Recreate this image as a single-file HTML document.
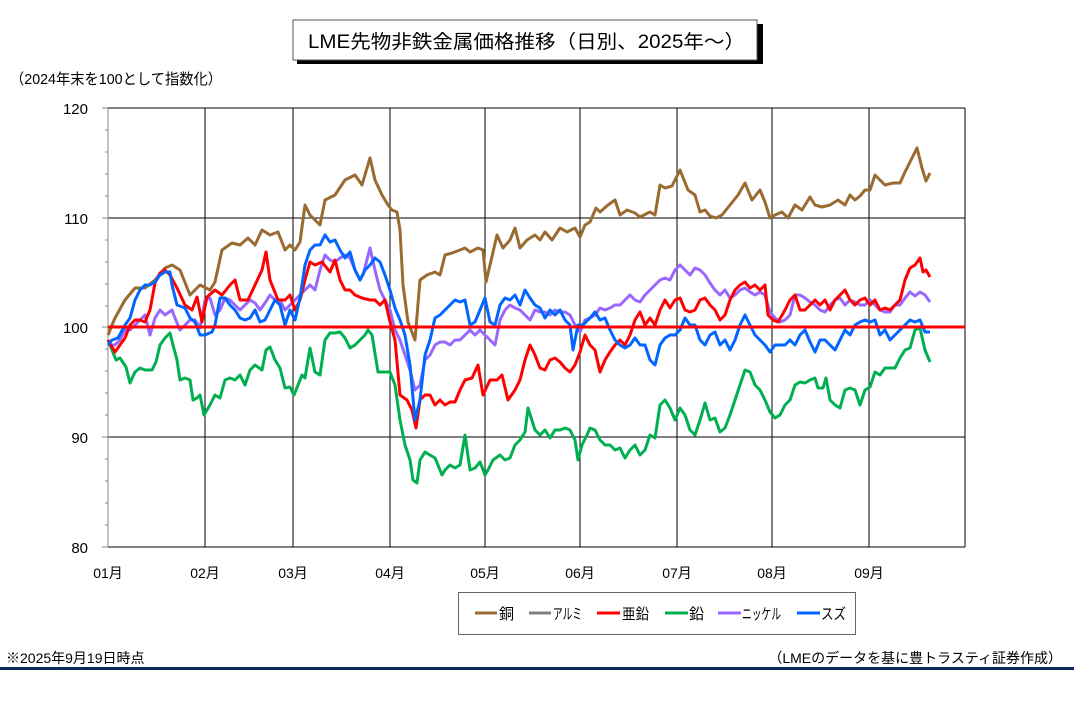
<!DOCTYPE html><html><head><meta charset="utf-8"><style>
body{margin:0;width:1074px;height:707px;background:#fff;overflow:hidden;font-family:"Liberation Sans","Noto Sans CJK JP",sans-serif}
</style></head><body>
<svg width="1074" height="707" xmlns="http://www.w3.org/2000/svg" font-family="Liberation Sans, Noto Sans CJK JP, sans-serif">
<rect x="297" y="24" width="466" height="40" fill="#000"/>
<rect x="293" y="20" width="464" height="40" fill="#fff" stroke="#555" stroke-width="1"/>
<text x="308" y="48" font-size="19" textLength="437" lengthAdjust="spacingAndGlyphs">LME先物非鉄金属価格推移（日別、2025年～）</text>
<text x="10" y="84" font-size="15" textLength="212" lengthAdjust="spacingAndGlyphs">（2024年末を100として指数化）</text>
<g stroke="#000" stroke-width="1">
<line x1="108" y1="108" x2="965" y2="108"/><line x1="108" y1="218" x2="965" y2="218"/><line x1="108" y1="437" x2="965" y2="437"/><line x1="108" y1="547" x2="965" y2="547"/>
<line x1="965" y1="108" x2="965" y2="547"/>
<line x1="205" y1="108" x2="205" y2="547"/><line x1="293" y1="108" x2="293" y2="547"/><line x1="390" y1="108" x2="390" y2="547"/><line x1="485" y1="108" x2="485" y2="547"/><line x1="580" y1="108" x2="580" y2="547"/><line x1="677" y1="108" x2="677" y2="547"/><line x1="772" y1="108" x2="772" y2="547"/><line x1="869" y1="108" x2="869" y2="547"/>
<line x1="108" y1="108" x2="108" y2="547" stroke="#888"/>
</g>
<g stroke="#888"><line x1="102" y1="108" x2="108" y2="108"/><line x1="102" y1="218" x2="108" y2="218"/><line x1="102" y1="327" x2="108" y2="327"/><line x1="102" y1="437" x2="108" y2="437"/><line x1="102" y1="547" x2="108" y2="547"/>
<line x1="105" y1="130" x2="108" y2="130"/><line x1="105" y1="152" x2="108" y2="152"/><line x1="105" y1="174" x2="108" y2="174"/><line x1="105" y1="196" x2="108" y2="196"/><line x1="105" y1="240" x2="108" y2="240"/><line x1="105" y1="262" x2="108" y2="262"/><line x1="105" y1="284" x2="108" y2="284"/><line x1="105" y1="306" x2="108" y2="306"/><line x1="105" y1="349" x2="108" y2="349"/><line x1="105" y1="371" x2="108" y2="371"/><line x1="105" y1="393" x2="108" y2="393"/><line x1="105" y1="415" x2="108" y2="415"/><line x1="105" y1="459" x2="108" y2="459"/><line x1="105" y1="481" x2="108" y2="481"/><line x1="105" y1="503" x2="108" y2="503"/><line x1="105" y1="525" x2="108" y2="525"/></g>
<g font-size="15" text-anchor="end"><text x="88" y="114">120</text><text x="88" y="224">110</text><text x="88" y="333">100</text><text x="88" y="443">90</text><text x="88" y="553">80</text></g>
<g font-size="14" text-anchor="middle"><text x="108" y="578">01月</text><text x="205" y="578">02月</text><text x="293" y="578">03月</text><text x="390" y="578">04月</text><text x="485" y="578">05月</text><text x="580" y="578">06月</text><text x="677" y="578">07月</text><text x="772" y="578">08月</text><text x="869" y="578">09月</text></g>
<g fill="none" stroke-width="3" stroke-linejoin="round">
<polyline stroke="#9b6a31" points="108,335 115,318 125,300 135,288 145,288 155,280 165,268 172,265 180,270 190,295 200,285 210,290 215,282 222,250 232,243 240,245 248,238 255,245 262,230 270,235 278,232 285,250 290,245 295,250 300,242 305,205 310,215 320,225 325,200 335,195 345,180 355,175 362,185 370,158 375,180 382,195 388,205 392,210 397,212 400,230 403,285 408,322 415,340 420,280 427,275 435,272 440,275 445,255 452,253 460,250 465,248 470,252 478,248 483,250 486,282 490,265 497,235 503,248 510,240 515,228 520,248 527,240 535,235 540,240 545,232 552,240 560,228 567,232 575,228 580,237 585,225 590,222 596,208 600,212 608,205 615,200 620,215 627,210 635,213 640,217 650,212 655,215 660,185 665,188 672,186 680,170 688,190 695,195 700,212 705,210 710,216 716,218 722,215 730,205 738,195 745,183 752,200 760,190 765,202 770,218 775,215 782,212 788,218 795,205 802,210 810,197 815,205 822,207 830,205 838,200 845,205 850,195 855,200 860,196 865,190 870,190 875,175 880,180 885,185 893,183 900,183 905,172 910,162 917,148 922,168 926,181 930,173"/>
<polyline stroke="#00b050" points="108,340 112,350 116,360 120,358 126,367 130,383 135,372 140,368 145,370 152,370 156,362 160,345 165,338 170,333 173,345 177,360 180,380 185,378 190,380 193,400 197,398 200,395 204,415 210,405 215,395 220,398 225,380 230,378 235,380 240,375 245,385 250,370 255,365 262,370 266,350 270,347 275,360 280,368 285,388 290,387 294,395 298,385 302,375 305,378 310,348 315,372 320,375 325,340 330,333 335,333 340,332 345,338 350,348 355,345 360,340 365,335 368,330 372,335 378,372 385,372 390,372 395,385 400,420 405,445 410,460 413,480 417,483 420,460 425,452 430,455 435,458 438,465 442,475 445,470 450,465 455,468 460,465 465,435 470,470 475,468 480,462 485,475 488,470 493,460 500,455 505,460 510,458 515,445 520,440 525,432 528,408 535,430 540,435 545,430 550,438 555,430 560,430 565,428 570,430 575,440 578,460 582,445 587,435 590,428 595,430 600,440 605,445 610,445 615,450 620,448 625,458 630,450 635,445 640,455 645,450 650,435 655,438 660,405 665,400 670,408 675,420 680,408 685,415 690,430 695,435 700,420 705,403 710,420 715,418 720,432 725,428 730,415 735,400 740,385 745,370 750,372 755,385 760,390 765,400 770,412 775,418 780,415 785,405 790,400 795,385 800,382 805,383 810,380 815,378 818,388 823,388 826,378 830,400 835,405 840,408 845,390 850,388 855,390 860,405 865,390 870,387 875,372 880,375 885,368 890,368 895,368 900,358 905,350 910,348 915,330 920,328 925,350 930,362"/>
<polyline stroke="#9966ff" points="108,345 115,345 120,340 125,330 130,330 135,325 140,320 145,315 150,335 155,318 160,310 165,315 172,310 175,318 180,330 185,325 190,320 195,320 200,328 205,300 210,298 215,315 220,310 225,298 230,300 235,305 240,310 245,305 250,300 255,303 260,310 265,303 270,295 275,300 280,300 285,310 290,305 295,300 300,295 305,290 310,285 315,290 320,270 325,255 330,260 335,262 340,258 345,255 350,258 355,270 360,280 363,275 370,248 375,270 380,290 385,300 390,310 395,330 400,340 405,355 410,370 415,390 420,385 425,360 430,355 435,345 440,342 445,342 450,345 455,340 460,340 465,335 470,330 475,335 480,330 485,335 490,340 495,345 500,320 505,310 510,305 515,308 520,310 525,315 530,320 535,310 540,312 545,312 550,315 555,310 560,312 565,312 570,315 575,325 580,332 585,320 590,318 595,315 600,308 605,310 610,308 615,305 620,305 625,300 630,295 635,300 640,302 645,295 650,290 655,285 660,280 665,278 670,280 675,270 680,265 685,270 690,275 695,268 700,270 705,275 710,283 715,290 720,295 725,290 730,298 735,295 740,290 745,288 750,292 755,295 760,292 765,295 770,312 775,318 780,322 785,320 790,315 795,295 800,295 805,298 810,302 815,305 820,310 825,312 830,305 835,300 840,298 845,305 850,300 855,302 860,305 865,305 870,300 875,305 880,310 885,312 890,312 895,305 900,305 905,298 910,292 915,296 920,292 925,295 930,302"/>
<polyline stroke="#ff0000" points="108,340 115,352 120,345 125,338 130,325 135,320 140,320 145,322 150,310 155,283 160,273 165,270 170,275 178,290 185,305 192,310 197,297 202,322 207,297 215,290 222,295 230,285 235,280 240,300 248,300 255,285 262,270 266,252 270,280 278,300 285,300 290,295 295,310 300,300 305,280 310,262 315,265 322,262 330,272 335,260 340,280 345,290 350,290 355,295 362,298 370,300 375,300 380,305 385,300 390,322 395,340 400,395 407,400 412,410 416,428 420,400 425,395 430,395 435,405 440,400 445,405 450,402 455,402 460,390 465,380 472,378 478,365 483,395 490,380 497,380 502,375 508,400 515,390 520,380 525,360 530,345 535,355 540,368 545,370 550,360 555,358 560,362 565,368 570,372 575,365 580,352 585,335 590,345 595,350 600,372 605,360 610,352 615,345 620,340 625,345 630,335 635,320 640,312 645,325 650,318 655,325 660,310 665,300 670,308 675,300 680,298 685,310 690,312 695,310 700,300 705,298 710,305 715,310 720,320 725,315 730,300 735,290 740,285 745,282 750,288 755,285 760,290 765,285 768,315 773,320 778,322 785,310 790,300 795,295 800,310 805,310 810,305 815,300 820,305 825,300 830,310 835,300 840,295 845,290 850,300 855,305 860,300 865,298 870,305 875,300 880,310 885,308 890,310 895,305 900,300 905,280 910,268 915,265 920,258 923,272 926,270 930,277"/>
<polyline stroke="#0066ff" points="108,345 112,340 118,338 125,325 130,318 135,300 140,290 145,285 150,285 155,282 160,275 165,272 170,272 172,285 177,305 185,308 190,318 195,322 200,335 205,335 212,332 215,325 220,298 225,298 230,305 235,310 240,318 245,320 250,318 255,310 260,322 265,320 270,310 275,300 280,305 285,325 290,310 295,320 300,298 305,265 310,250 315,245 320,245 325,235 330,242 335,240 340,250 345,258 350,252 355,270 360,280 365,270 370,265 375,258 380,262 385,275 390,290 395,308 400,320 405,335 410,365 415,420 420,400 425,355 430,340 435,318 440,315 445,310 450,305 455,300 460,302 465,300 470,325 475,322 480,310 485,298 490,322 495,325 500,305 505,298 510,300 515,295 520,305 525,290 530,298 535,305 540,308 545,318 550,310 555,315 560,310 565,320 570,325 573,350 578,325 583,325 590,318 595,312 600,320 605,318 610,330 615,340 620,345 625,348 630,345 635,338 640,345 645,345 650,360 655,365 660,345 665,338 670,335 675,335 680,330 685,318 690,325 695,325 700,340 705,345 710,335 715,332 720,345 725,340 730,350 735,340 740,325 745,315 750,325 755,335 760,340 765,345 770,352 775,345 780,345 785,345 790,340 795,345 800,335 805,330 810,342 815,352 820,340 825,340 830,345 835,350 840,340 845,330 850,335 855,325 860,322 865,320 870,322 875,320 880,335 885,330 890,340 895,335 900,330 905,325 910,320 915,322 920,320 925,332 930,332"/>
</g>
<line x1="108" y1="327" x2="965" y2="327" stroke="#ff0000" stroke-width="3"/>
<rect x="458.5" y="592.5" width="397" height="42" fill="#fff" stroke="#666"/>
<g stroke-width="3"><line x1="475" y1="613" x2="497" y2="613" stroke="#9b6a31"/><line x1="529" y1="613" x2="551" y2="613" stroke="#808080"/><line x1="597" y1="613" x2="620" y2="613" stroke="#ff0000"/><line x1="665" y1="613" x2="688" y2="613" stroke="#00b050"/><line x1="718" y1="613" x2="741" y2="613" stroke="#9966ff"/><line x1="797" y1="613" x2="820" y2="613" stroke="#0066ff"/></g>
<g font-size="15"><text x="499" y="619">銅</text><text x="553" y="619" textLength="29" lengthAdjust="spacingAndGlyphs">アルミ</text><text x="622" y="619" textLength="27" lengthAdjust="spacingAndGlyphs">亜鉛</text><text x="689" y="619">鉛</text><text x="742" y="619" textLength="39" lengthAdjust="spacingAndGlyphs">ニッケル</text><text x="821" y="619" textLength="25" lengthAdjust="spacingAndGlyphs">スズ</text></g>
<text x="6" y="663" font-size="14">※2025年9月19日時点</text>
<text x="1062" y="663" font-size="14" text-anchor="end">（LMEのデータを基に豊トラスティ証券作成）</text>
<rect x="0" y="667" width="1074" height="3" fill="#0c2a5e"/>
</svg>
</body></html>
